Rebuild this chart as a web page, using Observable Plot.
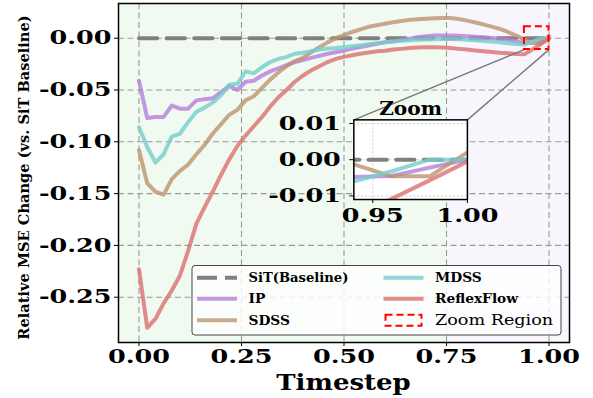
<!DOCTYPE html>
<html><head><meta charset="utf-8">
<script src="https://cdn.jsdelivr.net/npm/d3@7"></script>
<script src="https://cdn.jsdelivr.net/npm/@observablehq/plot@0.6"></script>
<style>
html,body{margin:0;padding:0;background:#fff;}
#chart{width:593px;height:398px;overflow:hidden;}
</style></head><body><div id="chart"></div>
<script>
const timesteps = [0.00,0.02,0.04,0.06,0.08,0.10,0.12,0.14,0.16,0.18,0.20,0.22,0.24,0.26,0.28,0.30,0.32,0.34,0.36,0.38,0.40,0.42,0.44,0.46,0.48,0.50,0.52,0.54,0.56,0.58,0.60,0.62,0.64,0.66,0.68,0.70,0.72,0.74,0.76,0.78,0.80,0.82,0.84,0.86,0.88,0.90,0.92,0.94,0.96,0.98,1.00];
const ipValues = [-0.041,-0.077,-0.076,-0.076,-0.065,-0.068,-0.068,-0.060,-0.059,-0.058,-0.052,-0.046,-0.050,-0.042,-0.041,-0.036,-0.032,-0.029,-0.026,-0.023,-0.021,-0.019,-0.017,-0.015,-0.0135,-0.012,-0.010,-0.0085,-0.007,-0.0055,-0.004,-0.003,-0.0015,-0.0005,0.001,0.002,0.0025,0.0026,0.0026,0.0023,0.002,0.0015,0.001,0.0003,-0.0005,-0.0015,-0.003,-0.0048,-0.0045,-0.0022,0.0];
const sdssValues = [-0.108,-0.140,-0.148,-0.151,-0.136,-0.128,-0.122,-0.112,-0.103,-0.092,-0.083,-0.074,-0.069,-0.060,-0.056,-0.048,-0.040,-0.033,-0.027,-0.022,-0.019,-0.0135,-0.0087,-0.004,0.0,0.003,0.006,0.0085,0.011,0.0125,0.014,0.0155,0.0167,0.0177,0.0183,0.0188,0.0192,0.0195,0.0195,0.0185,0.017,0.0152,0.0133,0.0112,0.009,0.006,0.0025,-0.0013,-0.0046,-0.0046,0.002];
const mdssValues = [-0.086,-0.105,-0.120,-0.112,-0.095,-0.092,-0.081,-0.071,-0.067,-0.062,-0.055,-0.045,-0.044,-0.032,-0.034,-0.028,-0.023,-0.020,-0.018,-0.015,-0.014,-0.0125,-0.011,-0.010,-0.0095,-0.0087,-0.0078,-0.0068,-0.0058,-0.0048,-0.004,-0.0032,-0.0025,-0.002,-0.0016,-0.0013,-0.001,-0.0007,-0.0007,-0.001,-0.0015,-0.002,-0.0027,-0.0033,-0.004,-0.0048,-0.0055,-0.006,-0.0032,0.0,0.0];
const reflexValues = [-0.223,-0.2795,-0.271,-0.256,-0.2435,-0.229,-0.205,-0.179,-0.163,-0.148,-0.132,-0.117,-0.104,-0.094,-0.085,-0.076,-0.066,-0.057,-0.050,-0.042,-0.036,-0.031,-0.027,-0.023,-0.020,-0.018,-0.0165,-0.015,-0.0138,-0.0127,-0.012,-0.011,-0.0103,-0.0095,-0.009,-0.0087,-0.0087,-0.009,-0.0095,-0.0103,-0.011,-0.0118,-0.0125,-0.0133,-0.014,-0.0145,-0.0152,-0.0155,-0.0108,-0.0057,-0.0005];
const baselineT = [0, 1];
const baselineValues = [0, 0];
const baselineName = "SiT(Baseline)";
const seriesNames = ["IP","SDSS","MDSS","ReflexFlow"];
const seriesColors = ["#b57edc","#bd936f","#76cdcc","#db6f71"];
const baselineColor = "#808080";
const xTicks = [0, 0.25, 0.5, 0.75, 1];
const xTickLabels = ["0.00","0.25","0.50","0.75","1.00"];
const yTicks = [0, -0.05, -0.10, -0.15, -0.20, -0.25];
const yTickLabels = ["0.00","-0.05","-0.10","-0.15","-0.20","-0.25"];
const xDomain = [-0.05, 1.05];
const yDomain = [-0.2937, 0.0335];
const phaseSplit = 0.75;
const zoomX = [0.94, 1.0];
const zoomY = [-0.011, 0.011];
const insetXTicks = [0.95, 1.0];
const insetXTickLabels = ["0.95","1.00"];
const insetYTicks = [-0.01, 0, 0.01];
const insetYTickLabels = ["-0.01","0.00","0.01"];
const insetX = [0.524, 0.801];
const insetY = [-0.1557, -0.0788];
const xLabel = "Timestep";
const yLabel = "Relative MSE Change (vs. SiT Baseline)";
const insetTitle = "Zoom";
const zoomLabel = "Zoom Region";

const FONT = "DejaVu Serif";
const valuesList = [ipValues, sdssValues, mdssValues, reflexValues];
const rows = seriesNames.flatMap((name, k) => timesteps.map((t, i) => ({t, v: valuesList[k][i], name})));
const baseRows = baselineT.map((t, i) => ({t, v: baselineValues[i]}));
const fmt = (ticks, labels) => d => labels[ticks.findIndex(v => Math.abs(v - d) < 1e-9)];
const colorScale = {domain: seriesNames, range: seriesColors};

// widen glyphs horizontally (the reference type is drawn wider than DejaVu's natural width)
function stretch(el, f) {
  const w = el.getComputedTextLength();
  if (w > 0) { el.setAttribute("textLength", (w * f).toFixed(2)); el.setAttribute("lengthAdjust", "spacingAndGlyphs"); }
}

const W = 593, H = 398;
const main = Plot.plot({
  width: W, height: H,
  marginLeft: 118, marginRight: 24, marginTop: 3, marginBottom: 56,
  style: {background: "white", fontFamily: FONT, fontSize: "19px", fontWeight: "bold", color: "black", overflow: "visible"},
  x: {domain: xDomain, ticks: xTicks, tickFormat: fmt(xTicks, xTickLabels), tickSize: 4, tickPadding: 3, label: null},
  y: {domain: yDomain, ticks: yTicks, tickFormat: fmt(yTicks, yTickLabels), tickSize: 4, tickPadding: 3, label: null},
  color: colorScale,
  marks: [
    Plot.rect([{a: xDomain[0], b: phaseSplit}], {x1: "a", x2: "b", fill: "#f1faf1"}),
    Plot.rect([{a: phaseSplit, b: xDomain[1]}], {x1: "a", x2: "b", fill: "#f8f5fd"}),
    Plot.ruleX(xTicks, {stroke: "#9a9a9a", strokeWidth: 1.1, strokeDasharray: "6,3.5"}),
    Plot.ruleY(yTicks, {stroke: "#9a9a9a", strokeWidth: 1.1, strokeDasharray: "6,3.5"}),
    Plot.line(baseRows, {x: "t", y: "v", stroke: baselineColor, strokeWidth: 4, strokeDasharray: "18.3,9.3"}),
    Plot.line(rows, {x: "t", y: "v", z: "name", stroke: "name", strokeWidth: 4, strokeOpacity: 0.8, strokeLinejoin: "round", strokeLinecap: "round"}),
    Plot.link([{x1: insetX[0], y1: insetY[1], x2: zoomX[0], y2: zoomY[0]}, {x1: insetX[1], y1: insetY[1], x2: zoomX[1], y2: zoomY[0]}],
      {x1: "x1", y1: "y1", x2: "x2", y2: "y2", stroke: "#777", strokeWidth: 1.4}),
    Plot.rect([{a: zoomX[0], b: zoomX[1], c: zoomY[0], d: zoomY[1]}], {x1: "a", x2: "b", y1: "c", y2: "d", fill: "none", stroke: "red", strokeWidth: 2, strokeDasharray: "7,4"}),
    Plot.frame({stroke: "black", strokeWidth: 1.5})
  ]
});
document.getElementById("chart").appendChild(main);
main.querySelectorAll('g[aria-label*="axis"] text').forEach(t => stretch(t, 1.34));
const X = main.scale("x"), Y = main.scale("y");
const ns = "http://www.w3.org/2000/svg";

// inset
const ipx1 = X.apply(insetX[0]), ipx2 = X.apply(insetX[1]);
const ipy1 = Y.apply(insetY[1]), ipy2 = Y.apply(insetY[0]);
const iml = 80, imr = 40, imt = 40, imb = 40;
const inset = Plot.plot({
  width: (ipx2 - ipx1) + iml + imr, height: (ipy2 - ipy1) + imt + imb,
  marginLeft: iml, marginRight: imr, marginTop: imt, marginBottom: imb,
  style: {background: "transparent", fontFamily: FONT, fontSize: "19px", fontWeight: "bold", color: "black", overflow: "visible"},
  x: {domain: zoomX, ticks: insetXTicks, tickFormat: fmt(insetXTicks, insetXTickLabels), tickSize: 4, tickPadding: 5, label: null},
  y: {domain: zoomY, ticks: insetYTicks, tickFormat: fmt(insetYTicks, insetYTickLabels), tickSize: 4, tickPadding: 9, label: null},
  color: colorScale,
  marks: [
    Plot.frame({fill: "white"}),
    Plot.ruleX(insetXTicks, {stroke: "#c8c8c8", strokeWidth: 0.9, strokeDasharray: "2,2"}),
    Plot.ruleY(insetYTicks, {stroke: "#c8c8c8", strokeWidth: 0.9, strokeDasharray: "2,2"}),
    Plot.line(baseRows, {x: "t", y: "v", stroke: baselineColor, strokeWidth: 4, strokeDasharray: "18.3,9.3", clip: true}),
    Plot.line(rows, {x: "t", y: "v", z: "name", stroke: "name", strokeWidth: 4, strokeOpacity: 0.8, strokeLinejoin: "round", clip: true}),
    Plot.frame({stroke: "black", strokeWidth: 1.5}),
    Plot.text([insetTitle], {frameAnchor: "top", text: d => d, lineAnchor: "bottom", dy: -5, fontSize: 18, fontWeight: "bold", fill: "black"})
  ]
});
const ig = document.createElementNS(ns, "g");
ig.setAttribute("transform", `translate(${ipx1 - iml},${ipy1 - imt})`);
for (const a of ["fill", "font-family", "font-size", "text-anchor", "style", "class"]) {
  if (inset.getAttribute(a) != null) ig.setAttribute(a, inset.getAttribute(a));
}
while (inset.firstChild) ig.appendChild(inset.firstChild);
main.appendChild(ig);
ig.querySelectorAll('g[aria-label*="axis"] text').forEach(t => stretch(t, 1.34));
ig.querySelectorAll('g[aria-label="text"] text').forEach(t => stretch(t, 1.12));

// axis labels
const sel = d3.select(main);
const xl = sel.append("text").attr("x", (118 + W - 24) / 2).attr("y", 390)
  .attr("text-anchor", "middle").attr("font-family", FONT).attr("font-size", 22).attr("font-weight", "bold")
  .attr("fill", "black").text(xLabel);
stretch(xl.node(), 1.18);
sel.append("text").attr("transform", `translate(29,${(3 + H - 56) / 2 + 5}) rotate(-90)`)
  .attr("text-anchor", "middle").attr("font-family", FONT).attr("font-size", 14.6).attr("font-weight", "bold")
  .attr("fill", "black").text(yLabel);

// legend
const lg = sel.append("g").attr("font-family", FONT).attr("fill", "black").attr("text-anchor", "start");
lg.append("rect").attr("x", 192).attr("y", 265.5).attr("width", 369).attr("height", 69.5).attr("rx", 3)
  .attr("fill", "white").attr("fill-opacity", 0.8).attr("stroke", "#444").attr("stroke-width", 1);
const legendItems = [
  {label: baselineName, kind: "dash", color: baselineColor},
  {label: seriesNames[0], kind: "line", color: seriesColors[0]},
  {label: seriesNames[1], kind: "line", color: seriesColors[1]},
  {label: seriesNames[2], kind: "line", color: seriesColors[2]},
  {label: seriesNames[3], kind: "line", color: seriesColors[3]},
  {label: zoomLabel, kind: "box", color: "red"}
];
const colX = [197, 383.5], rowY = [277.7, 298.7, 320.3];
legendItems.forEach((it, i) => {
  const cx = colX[Math.floor(i / 3)], cy = rowY[i % 3];
  if (it.kind === "box") {
    lg.append("rect").attr("x", cx + 2).attr("y", cy - 5.5).attr("width", 36).attr("height", 11)
      .attr("fill", "none").attr("stroke", "red").attr("stroke-width", 2).attr("stroke-dasharray", "7,4");
  } else {
    lg.append("line").attr("x1", cx).attr("x2", cx + 40).attr("y1", cy).attr("y2", cy)
      .attr("stroke", it.color).attr("stroke-width", 4)
      .attr("stroke-opacity", it.kind === "dash" ? 1 : 0.8)
      .attr("stroke-dasharray", it.kind === "dash" ? "20,8" : null);
  }
  const tx = lg.append("text").attr("x", cx + 51.5).attr("y", cy).attr("dy", "0.36em")
    .attr("font-size", it.kind === "box" ? 14.2 : 12.5).attr("font-weight", it.kind === "box" ? "normal" : "bold")
    .text(it.label);
  stretch(tx.node(), it.kind === "box" ? 1.24 : (it.kind === "dash" ? 1.05 : 1.1));
});
</script></body></html>
